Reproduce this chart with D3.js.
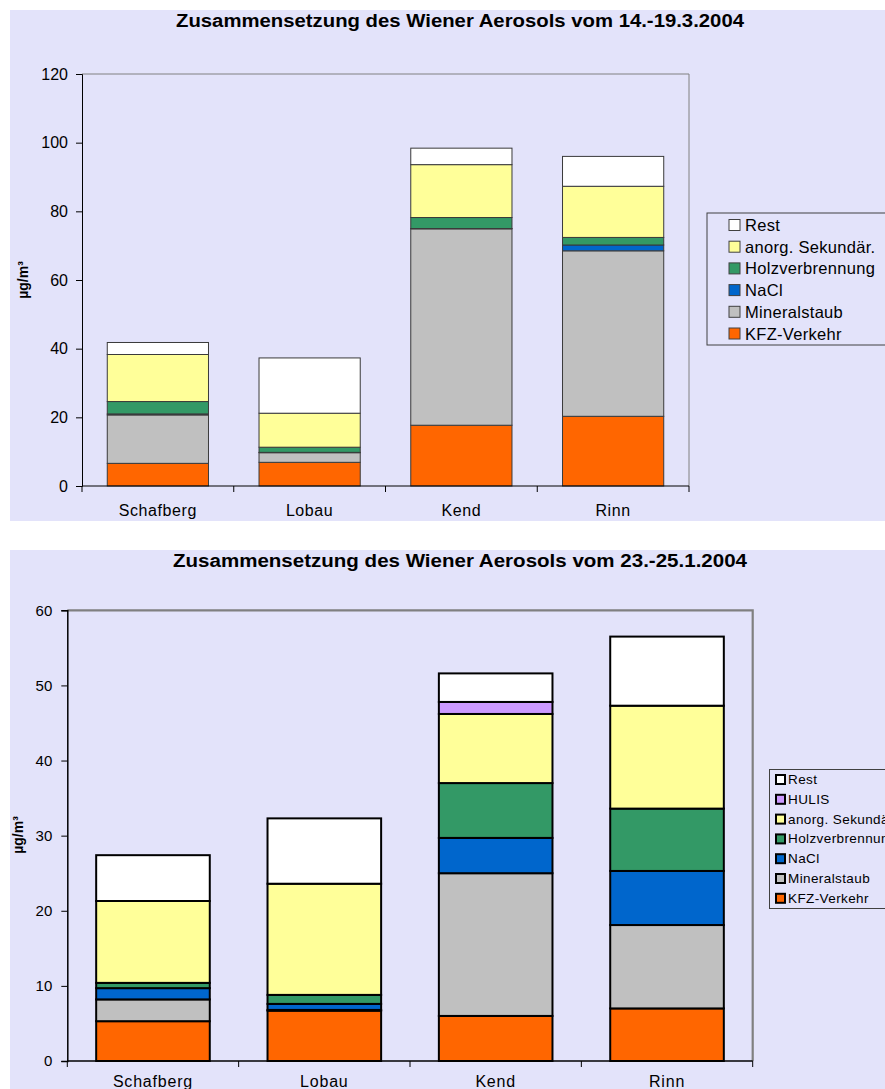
<!DOCTYPE html>
<html><head><meta charset="utf-8">
<script src="https://cdn.jsdelivr.net/npm/d3@7"></script>
<style>
html,body{margin:0;padding:0;background:#fff;}
svg{display:block;}
text{font-family:"Liberation Sans",Arial,sans-serif;fill:#000;}
</style></head><body>
<svg id="c" width="885" height="1089"></svg>
<script>
// ---------- data ----------
const sites = ["Schafberg", "Lobau", "Kend", "Rinn"];

// Chart 1: 14.-19.3.2004
const titleMarch = "Zusammensetzung des Wiener Aerosols vom 14.-19.3.2004";
const seriesMarch = ["KFZ-Verkehr", "Mineralstaub", "NaCl", "Holzverbrennung", "anorg. Sekundär.", "Rest"];
const kfzMarch     = [6.6, 6.9, 17.7, 20.3];
const mineralMarch = [14.1, 2.8, 57.2, 48.2];
const naclMarch    = [0.3, 0.1, 0.1, 1.7];
const holzMarch    = [3.6, 1.5, 3.2, 2.2];
const sekMarch     = [13.7, 9.9, 15.4, 14.9];
const restMarch    = [3.5, 16.1, 4.8, 8.7];
const ticksMarch   = [0, 20, 40, 60, 80, 100, 120];

// Chart 2: 23.-25.1.2004
const titleJan = "Zusammensetzung des Wiener Aerosols vom 23.-25.1.2004";
const seriesJan = ["KFZ-Verkehr", "Mineralstaub", "NaCl", "Holzverbrennung", "anorg. Sekundär.", "HULIS", "Rest"];
const kfzJan     = [5.3, 6.7, 6.0, 7.0];
const mineralJan = [2.9, 0.1, 19.0, 11.1];
const naclJan    = [1.5, 0.8, 4.7, 7.2];
const holzJan    = [0.7, 1.2, 7.3, 8.3];
const sekJan     = [10.9, 14.8, 9.2, 13.7];
const hulisJan   = [0, 0, 1.6, 0];
const restJan    = [6.1, 8.7, 3.8, 9.2];
const ticksJan   = [0, 10, 20, 30, 40, 50, 60];

const yLabel = "µg/m³";

const colors = {
  "KFZ-Verkehr": "#FF6600",
  "Mineralstaub": "#C0C0C0",
  "NaCl": "#0066CC",
  "Holzverbrennung": "#339966",
  "anorg. Sekundär.": "#FFFF99",
  "HULIS": "#CC99FF",
  "Rest": "#FFFFFF"
};

const svg = d3.select("#c");
const BG = "#E3E3FA";

function drawChart(cfg) {
  const g = svg.append("g");
  g.append("rect").attr("x", 10).attr("y", cfg.panelTop).attr("width", 875)
    .attr("height", cfg.panelBottom - cfg.panelTop).attr("fill", BG);
  g.append("text").attr("x", cfg.titleX).attr("y", cfg.titleY)
    .attr("text-anchor", "middle")
    .attr("textLength", cfg.titleLen).attr("lengthAdjust", "spacingAndGlyphs")
    .style("font-weight", "bold").style("font-size", cfg.titleSize + "px")
    .text(cfg.title);

  const rows = sites.map((s, i) => {
    const o = { site: s };
    cfg.series.forEach((k, j) => o[k] = cfg.values[j][i]);
    return o;
  });
  const stacked = d3.stack().keys(cfg.series)(rows);

  const x = d3.scaleBand().domain(sites).range([cfg.left, cfg.right])
    .paddingInner(cfg.pad).paddingOuter(cfg.pad / 2);
  const xb = d3.scaleLinear().domain([0, sites.length]).range([cfg.left, cfg.right]);
  const y = d3.scaleLinear().domain([0, d3.max(cfg.ticks)]).range([cfg.bottom, cfg.top]);

  g.append("path")
    .attr("d", `M${cfg.left},${y(d3.max(cfg.ticks))}H${cfg.right}V${cfg.bottom}`)
    .attr("fill", "none").attr("stroke", "#808080").attr("stroke-width", cfg.frameW);

  stacked.forEach(layer => {
    g.append("g").selectAll("rect").data(layer).join("rect")
      .attr("x", d => x(d.data.site))
      .attr("width", x.bandwidth())
      .attr("y", d => y(d[1]))
      .attr("height", d => Math.max(0, y(d[0]) - y(d[1])))
      .attr("fill", colors[layer.key])
      .attr("stroke", cfg.barStroke).attr("stroke-width", cfg.barStrokeW)
      .attr("display", d => (d[1] - d[0]) > 0 ? null : "none");
  });

  const ya = d3.axisLeft(y).tickValues(cfg.ticks).tickSize(cfg.tickLen).tickPadding(cfg.tickPad);
  const yg = g.append("g").attr("transform", `translate(${cfg.left},0)`).call(ya);
  yg.select(".domain").attr("stroke", "#000").attr("stroke-width", cfg.axisW);
  yg.selectAll(".tick line").attr("stroke", "#000");
  yg.selectAll(".tick text").style("font-size", cfg.tickSize + "px")
    .style("font-family", '"Liberation Sans",Arial,sans-serif')
    .attr("fill", "#000");

  g.append("line").attr("x1", cfg.left).attr("x2", cfg.right)
    .attr("y1", cfg.bottom).attr("y2", cfg.bottom)
    .attr("stroke", "#000").attr("stroke-width", cfg.axisW);
  g.append("g").selectAll("line").data(d3.range(sites.length + 1)).join("line")
    .attr("x1", d => xb(d)).attr("x2", d => xb(d))
    .attr("y1", cfg.bottom).attr("y2", cfg.bottom + cfg.tickLen)
    .attr("stroke", "#000");
  g.append("g").selectAll("text").data(sites).join("text")
    .attr("x", d => x(d) + x.bandwidth() / 2)
    .attr("y", cfg.catY)
    .attr("text-anchor", "middle")
    .style("font-size", cfg.catSize + "px")
    .style("letter-spacing", cfg.catSpacing + "px")
    .text(d => d);

  g.append("text")
    .attr("transform", `translate(${cfg.yLabX},${cfg.yLabY}) rotate(-90)`)
    .attr("text-anchor", "middle")
    .style("font-weight", "bold").style("font-size", cfg.yLabSize + "px")
    .text(yLabel);

  const leg = g.append("g");
  leg.append("rect").attr("x", cfg.legX).attr("y", cfg.legY)
    .attr("width", 300).attr("height", cfg.legH)
    .attr("fill", "none").attr("stroke", "#404040").attr("stroke-width", 1);
  const legItems = cfg.series.slice().reverse();
  const li = leg.selectAll("g").data(legItems).join("g")
    .attr("transform", (d, i) => `translate(0,${cfg.legFirst + i * cfg.legStep})`);
  li.append("rect").attr("x", cfg.swX).attr("y", -cfg.swSize / 2)
    .attr("width", cfg.swSize).attr("height", cfg.swSize)
    .attr("fill", d => colors[d]).attr("stroke", cfg.swStroke).attr("stroke-width", cfg.swStrokeW);
  li.append("text").attr("x", cfg.legTextX).attr("y", 0)
    .attr("dominant-baseline", "central")
    .style("font-size", cfg.legSize + "px")
    .style("letter-spacing", cfg.legSpacing + "px")
    .text(d => d);
}

drawChart({
  panelTop: 10, panelBottom: 521,
  title: titleMarch, titleX: 460, titleY: 27, titleSize: 18, titleLen: 568,
  series: seriesMarch,
  values: [kfzMarch, mineralMarch, naclMarch, holzMarch, sekMarch, restMarch],
  ticks: ticksMarch,
  left: 82, right: 689, top: 74, bottom: 486, pad: 0.333,
  frameW: 1, barStroke: "#3a3a3a", barStrokeW: 1, axisW: 1,
  tickLen: 6, tickPad: 8, tickSize: 16,
  catY: 516, catSize: 16, catSpacing: 0.6,
  yLabX: 28, yLabY: 280, yLabSize: 14,
  legX: 707, legY: 213, legH: 132, legFirst: 225, legStep: 21.7,
  swX: 729, swSize: 11, swStroke: "#404040", swStrokeW: 1,
  legTextX: 745, legSize: 16.5, legSpacing: 0.3
});

drawChart({
  panelTop: 550, panelBottom: 1089,
  title: titleJan, titleX: 460, titleY: 567, titleSize: 18, titleLen: 574,
  series: seriesJan,
  values: [kfzJan, mineralJan, naclJan, holzJan, sekJan, hulisJan, restJan],
  ticks: ticksJan,
  left: 67.3, right: 752.7, top: 610.3, bottom: 1061, pad: 0.337,
  frameW: 2.2, barStroke: "#000", barStrokeW: 2, axisW: 1.5,
  tickLen: 6, tickPad: 9, tickSize: 15,
  catY: 1087, catSize: 16, catSpacing: 0.8,
  yLabX: 23, yLabY: 835, yLabSize: 14,
  legX: 769.5, legY: 769.5, legH: 139, legFirst: 779.5, legStep: 19.8,
  swX: 776, swSize: 9, swStroke: "#000", swStrokeW: 2,
  legTextX: 788, legSize: 13.5, legSpacing: 0.4
});
</script>
</body></html>
